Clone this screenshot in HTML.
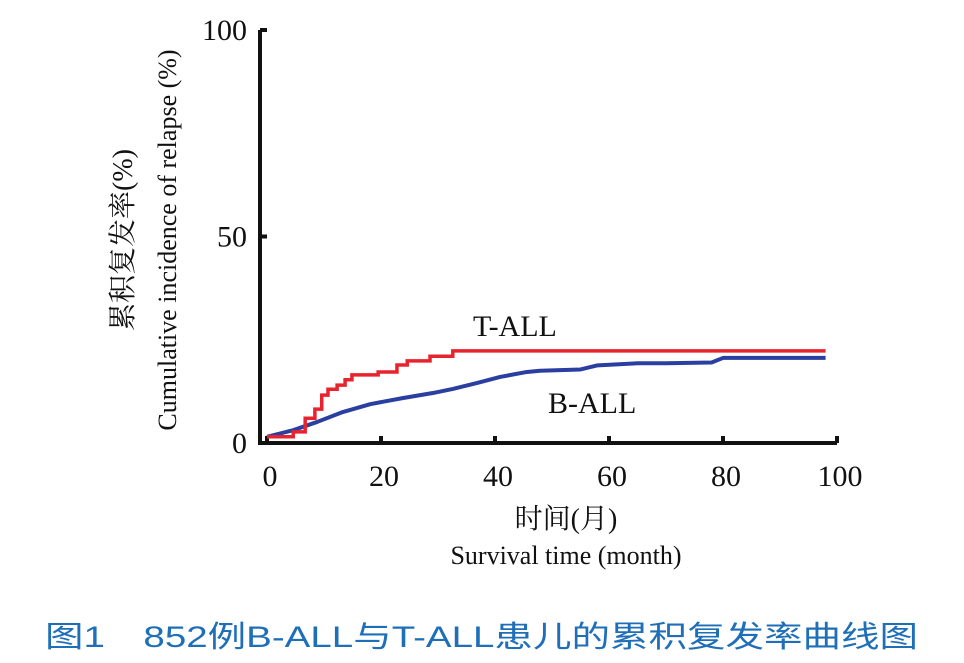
<!DOCTYPE html>
<html><head><meta charset="utf-8"><style>
body{margin:0;background:#fff;width:964px;height:663px;overflow:hidden}
svg{display:block}
.serif{font-family:"Liberation Serif","Noto Serif CJK SC",serif}
</style></head><body>
<svg id="chart" width="964" height="663" viewBox="0 0 964 663">
<g id="axes"></g>
<g id="series"></g>
<g id="labels" class="serif" fill="#111">
<text x="473" y="336" font-size="30">T-ALL</text>
<text x="548" y="413" font-size="30">B-ALL</text>
<text x="566" y="528" font-size="28" text-anchor="middle">时间(月)</text>
<text x="566" y="564" font-size="26" text-anchor="middle">Survival time (month)</text>
<text transform="translate(132,240) rotate(-90)" font-size="28" text-anchor="middle">累积复发率(%)</text>
<text transform="translate(176,240) rotate(-90)" font-size="26" text-anchor="middle">Cumulative incidence of relapse (%)</text>
</g>
<text x="45" y="647" font-size="30" fill="#1f6fb8" font-family="'Liberation Sans','Noto Sans CJK SC',sans-serif" textLength="873" lengthAdjust="spacingAndGlyphs">图1　852例B-ALL与T-ALL患儿的累积复发率曲线图</text>
</svg>
<script>
const xTicks=[0,20,40,60,80,100];
const yTicks=[0,50,100];
const tMonths=[0,4.6,6.7,8.4,9.6,10.7,12.3,13.7,14.9,19.5,22.8,24.6,28.6,32.6,98];
const tValues=[1.5,2.7,6,8.2,11.6,13,14,15.3,16.5,17.2,18.9,19.9,21,22.3,22.3];
const bMonths=[0,4.6,8.8,13.3,18.1,23.9,29.1,32.6,36.8,40.9,45.6,47.9,55,58,65,70,78,80,98];
const bValues=[1.5,3.1,5.1,7.5,9.4,10.9,12.1,13.1,14.5,16,17.2,17.5,17.8,18.8,19.3,19.3,19.5,20.6,20.6];
const NS='http://www.w3.org/2000/svg';
const X=m=>267+5.7*m;
const Y=v=>443-4.13*v;
function mk(tag,attrs,parent){const e=document.createElementNS(NS,tag);for(const k in attrs)e.setAttribute(k,attrs[k]);parent.appendChild(e);return e;}
const axes=document.getElementById('axes');
let a=mk('path',{d:`M${X(0)-7} ${Y(100)}H${X(0)-7}V${Y(0)}H${X(100)}`,stroke:'#111','stroke-width':4,fill:'none'},axes);


xTicks.forEach(t=>{
 const l=mk('line',{x1:X(t),x2:X(t),y1:Y(0),y2:Y(0)-7,stroke:'#111','stroke-width':4},axes);
 
 
 const tx=mk('text',{x:X(t)+3,y:486,'font-size':30,'text-anchor':'middle','class':'serif',fill:'#111'},axes);
 tx.textContent=t;
 
 
});
yTicks.forEach(t=>{
 const l=mk('line',{x1:X(0)-7,x2:X(0),y1:Y(t),y2:Y(t),stroke:'#111','stroke-width':4},axes);
 
 
 const tx=mk('text',{x:247,y:Y(t)+10,'font-size':30,'text-anchor':'end','class':'serif',fill:'#111'},axes);
 tx.textContent=t;
 
 
});
function step(ms,vs){let d=`M${X(ms[0])} ${Y(vs[0])}`;for(let i=1;i<ms.length;i++){d+=`H${X(ms[i])}V${Y(vs[i])}`;}return d;}
function line(ms,vs){return ms.map((m,i)=>(i?'L':'M')+X(m)+' '+Y(vs[i])).join('');}
const s=document.getElementById('series');
const b=mk('path',{d:line(bMonths,bValues),stroke:'#2a3fa0','stroke-width':4,fill:'none','stroke-linejoin':'round'},s);


const t=mk('path',{d:step(tMonths,tValues),stroke:'#e8232d','stroke-width':3.5,fill:'none'},s);


</script>
</body></html>
